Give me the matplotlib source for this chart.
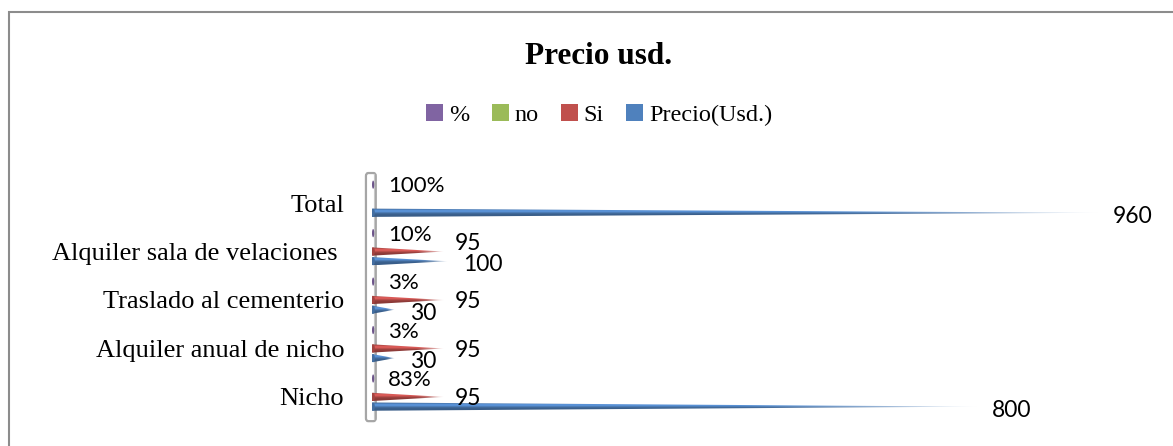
import numpy as np
import matplotlib.pyplot as plt
from matplotlib.patches import Polygon, Ellipse, Patch, FancyBboxPatch, Rectangle
from matplotlib.colors import to_rgb

categorias = ['Nicho', 'Alquiler anual de nicho', 'Traslado al cementerio',
              'Alquiler sala de velaciones ', 'Total']
precio = [800, 30, 30, 100, 960]
si = [95, 95, 95, 95, None]
no = [None, None, None, None, None]
porcentaje = [0.83, 0.03, 0.03, 0.10, 1.00]
etiquetas_pct = ['83%', '3%', '3%', '10%', '100%']

AZUL, ROJO, VERDE, MORADO = '#4F81BD', '#C0504D', '#9BBB59', '#8064A2'
SERIF = 'Liberation Serif'
SANS = 'Lato'

fig = plt.figure(figsize=(11.73, 4.46), dpi=100)
ax = fig.add_axes([372 / 1173, 20 / 446, 756 / 1173, 252 / 446])

# borde del grafico
fig.patches.append(Rectangle((9 / 1173, -0.05), 1.2, 0.973 + 0.05, transform=fig.transFigure,
                             fill=False, edgecolor='#8c8c8c', lw=1.5))

h = 0.085


def cono(y, v, color):
    base = np.array(to_rgb(color))
    t = np.linspace(-1, 1, 40)[:, None]
    s = np.linspace(0, 1, 300)[None, :]
    f = 0.72 + 0.45 * np.exp(-((t - 0.35) / 0.45) ** 2)
    rgb = np.clip(base[None, None, :] * f[..., None], 0, 1) * np.ones((1, 300, 1))
    w = (np.clip((s - 0.6) / 0.4, 0, 1) ** 1.5 * 0.9)[..., None]
    rgb = rgb * (1 - w) + w
    im = ax.imshow(rgb, extent=[0, v, y - h, y + h], origin='lower', aspect='auto',
                   interpolation='bilinear', zorder=3)
    tri = Polygon([(0, y - h), (0, y + h), (v, y)], closed=True, transform=ax.transData)
    im.set_clip_path(tri)


def base(y, color, ancho=4.5):
    ax.add_patch(Ellipse((1.5, y), ancho, 2 * h, facecolor=np.array(to_rgb(color)) * 0.85,
                         edgecolor='none', zorder=4))


series = [(precio, AZUL, -0.2), (si, ROJO, 0.0), (no, VERDE, 0.19), (porcentaje, MORADO, 0.38)]

# pared lateral
ax.add_patch(FancyBboxPatch((-8, -0.5), 13, 5.12, boxstyle='round,pad=0,rounding_size=3',
                            facecolor='white', edgecolor='#a6a6a6', lw=1.6, clip_on=False,
                            mutation_aspect=0.02, zorder=1))
ax.plot([2, 2], [-0.45, 4.6], color='#c8c8c8', lw=0.8, clip_on=False, zorder=1)

for vals, color, off in series:
    for i, v in enumerate(vals):
        if v is None:
            continue
        y = i + off
        if v > 2:
            cono(y, v, color)
        base(y, color, 4.5 if v > 2 else 3)

for i, v in enumerate(precio):
    ax.text(v + 20, i - 0.2 - 0.07, str(v), ha='left', va='center', fontsize=16.5,
            family=SANS, color='black', zorder=5)
for i, v in enumerate(si):
    if v is not None:
        # si choca con la etiqueta de precio, subirla un poco
        dy = 0.16 if abs(precio[i] - v) < 40 else -0.04
        ax.text(v + 14, i + dy, str(v), ha='left', va='center', fontsize=16.5,
                family=SANS, color='black', zorder=5)
for i, lab in enumerate(etiquetas_pct):
    ax.text(21, i + 0.35, lab, ha='left', va='center', fontsize=16,
            family=SANS, color='black', zorder=5)

ax.set_xlim(0, 1000)
ax.set_ylim(-0.6, 4.6)
ax.set_yticks(range(len(categorias)))
ax.set_yticklabels(categorias, family=SERIF, fontsize=19)
ax.tick_params(axis='y', length=0, pad=20)
ax.set_xticks([])
for sp in ax.spines.values():
    sp.set_visible(False)

fig.text(0.51, 1 - 56 / 446, 'Precio usd.', ha='center', va='center', fontsize=22.5,
         fontweight='bold', family=SERIF)

handles = [Patch(facecolor=MORADO, label='%'), Patch(facecolor=VERDE, label='no'),
           Patch(facecolor=ROJO, label='Si'), Patch(facecolor=AZUL, label='Precio(Usd.)')]
fig.legend(handles=handles, loc='center', bbox_to_anchor=(0.511, 1 - 115 / 446), ncol=4,
           frameon=False, prop={'family': SERIF, 'size': 17.5}, handlelength=0.7,
           handleheight=0.7, handletextpad=0.25, columnspacing=0.9)

fig.savefig('out.png', dpi=100)
